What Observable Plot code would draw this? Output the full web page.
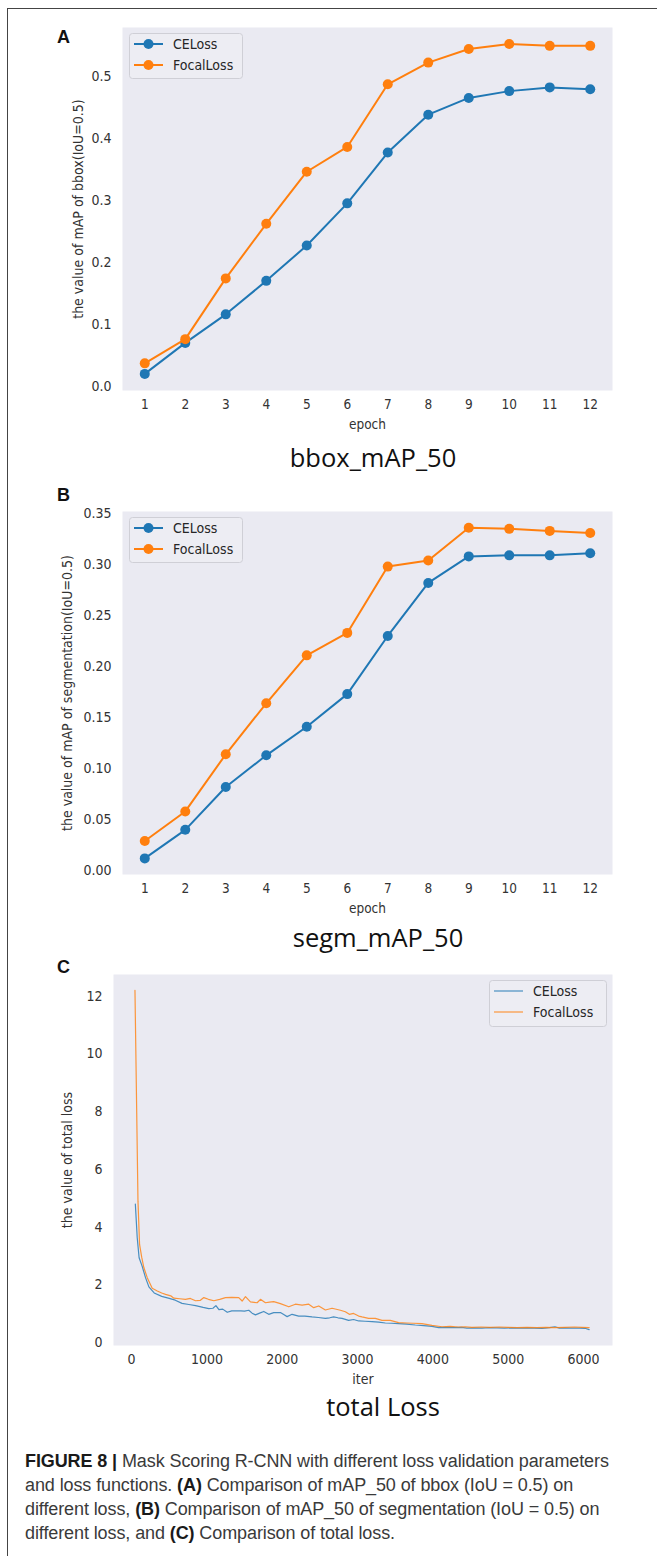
<!DOCTYPE html>
<html><head><meta charset="utf-8">
<script src="https://cdn.jsdelivr.net/npm/d3@7"></script>
<script src="https://cdn.jsdelivr.net/npm/@observablehq/plot@0.6"></script>
<style>
html,body{margin:0;padding:0;background:#fff}
#root{position:relative;width:657px;height:1556px;overflow:hidden;background:#fff}
.abs{position:absolute}
.letter{font-family:"Liberation Sans",Arial,sans-serif;font-weight:bold;font-size:18px;color:#111;line-height:1}
.subtitle{font-family:"Open Sans",sans-serif;font-size:25.5px;color:#111;transform:translate(-50%,-50%);white-space:nowrap;line-height:1}
.caption{font-family:"Liberation Sans",sans-serif;font-size:18px;line-height:24px;color:#3a3a3a;white-space:nowrap;letter-spacing:-0.1px}
.caption b{color:#1a1a1a}
</style></head><body><div id="root"></div><script>
// ---------- data ----------
const series = ["CELoss", "FocalLoss"];
const seriesColors = ["#1f77b4", "#ff7f0e"];
const epochs = [1, 2, 3, 4, 5, 6, 7, 8, 9, 10, 11, 12];
const bboxCE    = [0.020, 0.070, 0.116, 0.170, 0.227, 0.295, 0.377, 0.438, 0.465, 0.476, 0.482, 0.479];
const bboxFocal = [0.037, 0.076, 0.174, 0.262, 0.346, 0.386, 0.487, 0.522, 0.544, 0.552, 0.549, 0.549];
const segmCE    = [0.012, 0.040, 0.082, 0.113, 0.141, 0.173, 0.230, 0.282, 0.308, 0.309, 0.309, 0.311];
const segmFocal = [0.029, 0.058, 0.114, 0.164, 0.211, 0.233, 0.298, 0.304, 0.336, 0.335, 0.333, 0.331];
const bboxTicks = [0, 0.1, 0.2, 0.3, 0.4, 0.5];
const segmTicks = [0, 0.05, 0.10, 0.15, 0.20, 0.25, 0.30, 0.35];
const lossXTicks = [0, 1000, 2000, 3000, 4000, 5000, 6000];
const lossYTicks = [0, 2, 4, 6, 8, 10, 12];

const ceIter = [50, 75, 100, 140, 185, 230, 300, 400, 500, 580, 670, 760, 850, 950, 1025, 1080, 1120, 1160, 1210, 1270, 1330, 1380, 1450, 1500, 1556, 1600, 1645, 1700, 1755, 1821, 1887, 1976, 2020, 2065, 2131, 2219, 2300, 2396, 2480, 2573, 2630, 2683, 2740, 2794, 2882, 2948, 3015, 3100, 3192, 3280, 3369, 3450, 3545, 3650, 3767, 3880, 3988, 4077, 4200, 4297, 4380, 4452, 4550, 4650, 4750, 4850, 4950, 5050, 5150, 5250, 5350, 5450, 5550, 5620, 5680, 5750, 5850, 5950, 6030, 6075];
const ceLoss = [4.80, 3.63, 2.94, 2.65, 2.25, 1.93, 1.72, 1.60, 1.53, 1.47, 1.36, 1.32, 1.28, 1.22, 1.18, 1.19, 1.28, 1.14, 1.16, 1.05, 1.10, 1.10, 1.10, 1.09, 1.12, 1.02, 0.96, 1.02, 1.08, 0.98, 1.04, 1.04, 0.97, 0.90, 0.98, 0.92, 0.92, 0.89, 0.87, 0.84, 0.86, 0.89, 0.86, 0.84, 0.77, 0.80, 0.75, 0.74, 0.73, 0.71, 0.68, 0.67, 0.66, 0.64, 0.61, 0.59, 0.56, 0.52, 0.53, 0.52, 0.53, 0.50, 0.51, 0.50, 0.52, 0.51, 0.50, 0.51, 0.50, 0.51, 0.50, 0.49, 0.52, 0.55, 0.50, 0.51, 0.50, 0.50, 0.49, 0.45];
const focalIter = [45, 85, 106, 135, 163, 208, 274, 341, 400, 451, 520, 561, 640, 716, 780, 849, 910, 959, 1020, 1092, 1170, 1247, 1330, 1423, 1468, 1512, 1578, 1667, 1711, 1777, 1830, 1887, 1976, 2087, 2175, 2264, 2352, 2418, 2485, 2573, 2662, 2772, 2838, 2891, 2948, 3015, 3059, 3147, 3236, 3325, 3435, 3545, 3650, 3744, 3855, 3988, 4121, 4230, 4341, 4430, 4518, 4640, 4761, 4880, 5000, 5120, 5250, 5380, 5500, 5620, 5750, 5880, 5980, 6075];
const focalLoss = [12.2, 4.90, 3.40, 2.95, 2.60, 2.25, 1.88, 1.79, 1.72, 1.67, 1.62, 1.54, 1.52, 1.50, 1.53, 1.45, 1.46, 1.56, 1.50, 1.45, 1.50, 1.56, 1.57, 1.56, 1.44, 1.59, 1.41, 1.38, 1.50, 1.38, 1.40, 1.42, 1.35, 1.24, 1.33, 1.30, 1.33, 1.21, 1.27, 1.13, 1.19, 1.12, 1.07, 0.98, 1.01, 0.92, 0.89, 0.84, 0.84, 0.77, 0.77, 0.69, 0.68, 0.67, 0.66, 0.60, 0.55, 0.56, 0.54, 0.55, 0.53, 0.54, 0.53, 0.54, 0.53, 0.52, 0.53, 0.52, 0.53, 0.52, 0.53, 0.54, 0.53, 0.52];

// ---------- layout ----------
const root = document.getElementById("root");
const FONT = "'DejaVu Sans Condensed','DejaVu Sans',sans-serif";
const BG = "#EAEAF2";

function place(el, left, top) {
  el.style.position = "absolute"; el.style.left = left + "px"; el.style.top = top + "px";
  root.appendChild(el); return el;
}
function addDiv(cls, html, left, top) {
  const d = document.createElement("div"); d.className = cls; d.innerHTML = html;
  return place(d, left, top);
}

function mapPanel(ce, focal, yDomain, yTicks, yFmt, yLabel, yLabelOffset) {
  const rows = [];
  epochs.forEach((e, i) => rows.push({epoch: e, value: ce[i], series: series[0]}));
  epochs.forEach((e, i) => rows.push({epoch: e, value: focal[i], series: series[1]}));
  return Plot.plot({
    width: 657, height: 440, marginLeft: 122, marginRight: 45, marginTop: 27, marginBottom: 50,
    style: {background: "transparent", fontFamily: FONT, fontSize: "13.5px", color: "#333", overflow: "visible"},
    x: {domain: [0.45, 12.55]},
    y: {domain: yDomain},
    color: {domain: series, range: seriesColors},
    marks: [
      Plot.frame({fill: BG, stroke: "none"}),
      Plot.axisX({ticks: epochs, tickSize: 0, tickPadding: 9, tickFormat: d => String(d), label: "epoch", labelAnchor: "center", labelOffset: 38, labelArrow: "none"}),
      Plot.axisY({ticks: yTicks, tickSize: 0, tickPadding: 11, tickFormat: yFmt, label: yLabel, labelAnchor: "center", labelOffset: yLabelOffset, labelArrow: "none", fontSize: 14}),
      ...series.flatMap(s => {
        const d = rows.filter(r => r.series === s);
        return [
          Plot.line(d, {x: "epoch", y: "value", stroke: "series", strokeWidth: 2}),
          Plot.dot(d, {x: "epoch", y: "value", fill: "series", r: 5})
        ];
      })
    ]
  });
}

function lossPanel() {
  const rows = [];
  ceIter.forEach((it, i) => rows.push({iter: it, value: ceLoss[i], series: series[0]}));
  focalIter.forEach((it, i) => rows.push({iter: it, value: focalLoss[i], series: series[1]}));
  return Plot.plot({
    width: 657, height: 448, marginLeft: 113, marginRight: 45, marginTop: 27, marginBottom: 50,
    style: {background: "transparent", fontFamily: FONT, fontSize: "13.5px", color: "#333", overflow: "visible"},
    x: {domain: [-240, 6385]},
    y: {domain: [-0.1, 12.75]},
    color: {domain: series, range: seriesColors},
    marks: [
      Plot.frame({fill: BG, stroke: "none"}),
      Plot.axisX({ticks: lossXTicks, tickSize: 0, tickPadding: 9, tickFormat: d => String(d), label: "iter", labelAnchor: "center", labelOffset: 38, labelArrow: "none", fontSize: 14}),
      Plot.axisY({ticks: lossYTicks, tickSize: 0, tickPadding: 11, tickFormat: d => String(d), label: "the value of total loss", labelAnchor: "center", labelOffset: 51, labelArrow: "none", fontSize: 14}),
      ...series.map(s => Plot.line(rows.filter(r => r.series === s), {x: "iter", y: "value", stroke: "series", strokeWidth: 1.2, strokeOpacity: 0.8}))
    ]
  });
}

function legend(left, top, w, h, rowYs, lineX1, lineX2, textX, withMarker, lw, op) {
  const svg = d3.create("svg").attr("width", w).attr("height", h)
    .style("overflow", "visible");
  svg.append("rect").attr("x", 0.5).attr("y", 0.5).attr("width", w - 1).attr("height", h - 1)
    .attr("rx", 3).attr("fill", "#EDEDF3").attr("stroke", "#CFCFD6").attr("stroke-width", 1);
  series.forEach((s, i) => {
    const y = rowYs[i];
    svg.append("line").attr("x1", lineX1).attr("x2", lineX2).attr("y1", y).attr("y2", y)
      .attr("stroke", seriesColors[i]).attr("stroke-width", lw).attr("stroke-opacity", op);
    if (withMarker) svg.append("circle").attr("cx", (lineX1 + lineX2) / 2).attr("cy", y).attr("r", 5).attr("fill", seriesColors[i]);
    svg.append("text").attr("x", textX).attr("y", y).attr("dy", "0.35em")
      .attr("font-family", FONT).attr("font-size", "14px").attr("fill", "#262626").text(s);
  });
  place(svg.node(), left, top);
}

// frame
const fr = document.createElement("div");
fr.style.cssText = "border-left:1.5px solid #444;border-top:1.5px solid #444;width:700px;height:1600px";
place(fr, 7, 8);

// Panel A
place(mapPanel(bboxCE, bboxFocal, [-0.0068, 0.5786], bboxTicks, d3.format(".1f"), "the value of mAP of bbox(IoU=0.5)", 49), 0, 0);
legend(129, 33, 114, 46, [11, 32], 5, 34, 44, true, 2, 1);
addDiv("letter", "A", 57, 28);
addDiv("subtitle", "bbox_mAP_50", 373, 458);

// Panel B
place(mapPanel(segmCE, segmFocal, [-0.0038, 0.352], segmTicks, d3.format(".2f"), "the value of mAP of segmentation(IoU=0.5)", 60), 0, 484);
legend(129, 517, 114, 46, [11, 32], 5, 34, 44, true, 2, 1);
addDiv("letter", "B", 57, 486);
addDiv("subtitle", "segm_mAP_50", 378, 938);

// Panel C
place(lossPanel(), 0, 947);
legend(489, 980, 118, 47, [11, 32], 5, 34, 44, false, 1.2, 0.8);
addDiv("letter", "C", 57, 958);
addDiv("subtitle", "total Loss", 383, 1407);

// caption
addDiv("caption",
  "<b>FIGURE 8 |</b> Mask Scoring R-CNN with different loss validation parameters<br>" +
  "and loss functions. <b>(A)</b> Comparison of mAP_50 of bbox (IoU = 0.5) on<br>" +
  "different loss, <b>(B)</b> Comparison of mAP_50 of segmentation (IoU = 0.5) on<br>" +
  "different loss, and <b>(C)</b> Comparison of total loss.", 25, 1449);
</script></body></html>
